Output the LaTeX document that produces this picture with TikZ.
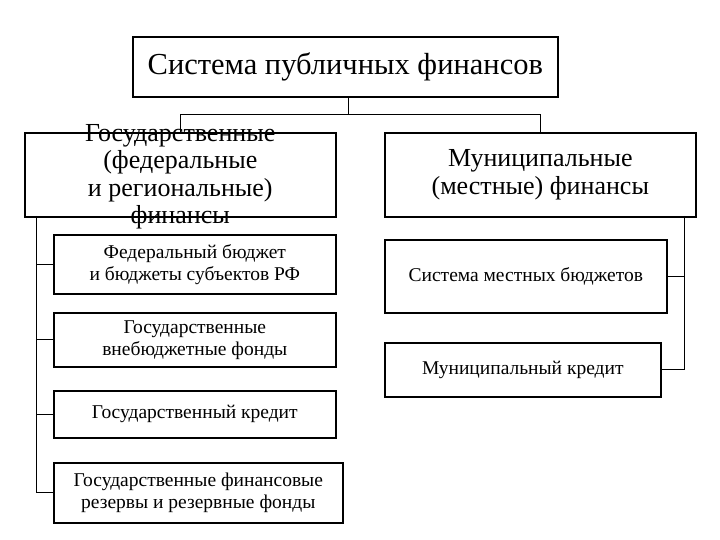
\documentclass[tikz,border=0pt]{standalone}
\usepackage{fontspec}
\setmainfont{Liberation Serif}
\begin{document}
\begin{tikzpicture}[x=1pt,y=-1pt,
  bigbox/.style={draw,line width=1.6pt,inner sep=0pt,anchor=north west},
  smallbox/.style={draw,line width=1.6pt,inner sep=0pt,anchor=north west},
  conn/.style={line width=0.8pt},
  bigtext/.style={align=center,font=\fontsize{26}{27.5}\selectfont},
  smalltext/.style={align=center,font=\fontsize{19.5}{22}\selectfont}]
\useasboundingbox (0,0) rectangle (720,540);
% top
\node[bigbox,minimum width=425pt,minimum height=60pt,font=\fontsize{30.5}{32}\selectfont] (top) at (132,36) {Система публичных финансов};
% level 2
\node[bigbox,minimum width=311pt,minimum height=84pt] (gos) at (24,132) {};
\node[bigtext] (gost) at ([yshift=-2pt]gos.center) {Государственные\\(федеральные\\и региональные)\\финансы};
\node[bigbox,minimum width=311pt,minimum height=84pt,bigtext] (mun) at (384,132) {Муниципальные\\(местные) финансы};
% left children
\node[smallbox,minimum width=282pt,minimum height=59pt,smalltext] (c1) at (53,234) {Федеральный бюджет\\и бюджеты субъектов РФ};
\node[smallbox,minimum width=282pt,minimum height=54pt,smalltext] (c2) at (53,312) {Государственные\\внебюджетные фонды};
\node[smallbox,minimum width=282pt,minimum height=47pt,smalltext] (c3) at (53,390) {Государственный кредит};
\node[smallbox,minimum width=289pt,minimum height=60pt,smalltext] (c4) at (53,462) {Государственные финансовые\\резервы и резервные фонды};
% right children
\node[smallbox,minimum width=282pt,minimum height=73pt,smalltext] (m1) at (384,239) {Система местных бюджетов};
\node[smallbox,minimum width=276pt,minimum height=54pt,smalltext] (m2) at (384,342) {Муниципальный кредит};
% connectors
\coordinate (j) at (348,114);
\draw[conn] (top.south -| j) -- (j);
\draw[conn] (gos.north) -- (gos.north |- j) -| (mun.north);
\coordinate (ls) at (36,216);
\coordinate (rs) at (684,216);
\draw[conn] (ls) |- (c4.west);
\draw[conn] (ls |- c1.west) -- (c1.west);
\draw[conn] (ls |- c2.west) -- (c2.west);
\draw[conn] (ls |- c3.west) -- (c3.west);
\draw[conn] (rs) |- (m2.east);
\draw[conn] (rs |- m1.east) -- (m1.east);
\end{tikzpicture}
\end{document}
